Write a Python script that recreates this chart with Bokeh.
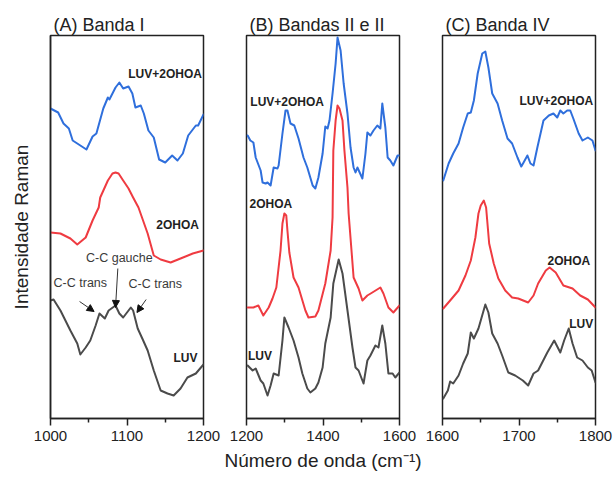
from bokeh.plotting import figure
from bokeh.layouts import row
from bokeh.models import Range1d, FixedTicker, Arrow, NormalHead, Label
from bokeh.embed import file_html
from bokeh.resources import INLINE

# ---------------- data (wavenumber cm-1, Raman intensity a.u.) ----------------
# Panel A: Banda I
a_luv2_x = [1000, 1010, 1017, 1024, 1029, 1035, 1047, 1055, 1060, 1069, 1075, 1077, 1085, 1090, 1095, 1102,
            1107, 1111, 1118, 1122, 1128, 1135, 1142, 1150, 1159, 1166, 1173, 1180, 1190, 1193, 1200]
a_luv2_y = [310, 306, 295, 290, 278, 275, 269, 282, 285, 310, 321, 319, 331, 336, 330, 332,
            325, 311, 313, 305, 288, 281, 259, 256, 263, 258, 265, 283, 293, 293, 304]
a_ohoa_x = [1000, 1013, 1026, 1035, 1046, 1055, 1063, 1065, 1075, 1081, 1085, 1089, 1095, 1102, 1108, 1115,
            1127, 1135, 1144, 1157, 1170, 1186, 1200]
a_ohoa_y = [186, 185, 180, 174, 181, 198, 211, 221, 238, 245, 246, 245, 238, 230, 221, 211,
            185, 163, 159, 156, 160, 165, 168]
a_luv_x = [1000, 1004, 1013, 1026, 1035, 1039, 1046, 1052, 1059, 1064, 1071, 1076, 1085, 1090, 1095,
           1105, 1108, 1114, 1120, 1127, 1135, 1144, 1153, 1161, 1170, 1179, 1190, 1200]
a_luv_y = [118, 119, 108, 88, 75, 64, 71, 78, 93, 105, 100, 108, 113, 105, 101,
           111, 108, 90, 80, 68, 48, 28, 25, 23, 30, 41, 45, 54]

# Panel B: Bandas II e III
b_luv2_x = [1203, 1210, 1218, 1224, 1237, 1242, 1250, 1255, 1263, 1271, 1281, 1284, 1294, 1302, 1307,
            1315, 1325, 1336, 1349, 1359, 1373, 1380, 1388, 1399, 1406, 1412, 1417, 1425, 1433, 1438,
            1446, 1454, 1464, 1472, 1480, 1485, 1490, 1503, 1511, 1516, 1524, 1532, 1542, 1550, 1555,
            1563, 1569, 1576, 1584, 1595, 1600]
b_luv2_y = [283, 278, 276, 261, 248, 236, 235, 236, 233, 251, 250, 253, 285, 308, 308,
            295, 293, 280, 261, 251, 233, 230, 241, 265, 292, 290, 298, 325, 355, 381,
            368, 335, 305, 271, 251, 246, 251, 240, 265, 286, 283, 288, 293, 290, 315,
            291, 261, 258, 253, 263, 263]
b_ohoa_x = [1203, 1218, 1231, 1244, 1258, 1268, 1278, 1289, 1294, 1299, 1304, 1307, 1312, 1323, 1336, 1354,
            1362, 1380, 1388, 1406, 1420, 1425, 1427, 1433, 1438, 1443, 1451, 1456, 1464, 1467, 1480,
            1493, 1503, 1516, 1529, 1550, 1558, 1571, 1584, 1600]
b_ohoa_y = [111, 111, 113, 103, 111, 120, 131, 168, 195, 205, 203, 188, 166, 141, 131, 108,
            101, 102, 108, 135, 168, 201, 268, 298, 313, 310, 298, 268, 231, 205, 141,
            130, 118, 123, 126, 131, 125, 111, 106, 113]
b_luv_x = [1203, 1216, 1224, 1237, 1244, 1255, 1263, 1271, 1284, 1294, 1299, 1310, 1323, 1336, 1346,
           1359, 1367, 1380, 1388, 1399, 1406, 1420, 1427, 1441, 1451, 1464, 1477, 1485, 1493, 1506,
           1516, 1524, 1537, 1545, 1555, 1563, 1571, 1582, 1589, 1600]
b_luv_y = [53, 48, 50, 38, 35, 23, 33, 45, 43, 78, 101, 91, 78, 61, 45,
           30, 26, 30, 36, 51, 75, 101, 135, 159, 145, 108, 71, 51, 48, 35,
           58, 63, 73, 71, 93, 75, 45, 45, 41, 46]

# Panel C: Banda IV
c_luv2_x = [1601, 1608, 1614, 1621, 1627, 1633, 1637, 1641, 1646, 1652, 1656, 1660, 1665, 1672, 1678,
            1685, 1691, 1698, 1703, 1706, 1711, 1715, 1719, 1724, 1732, 1739, 1745, 1750, 1754, 1758,
            1763, 1767, 1771, 1778, 1783, 1790, 1796, 1800]
c_luv2_y = [238, 255, 265, 275, 291, 305, 306, 318, 345, 365, 367, 351, 325, 315, 298,
            280, 275, 261, 252, 256, 263, 255, 253, 271, 298, 303, 305, 301, 308, 305,
            308, 308, 300, 285, 278, 281, 278, 268]
c_ohoa_x = [1601, 1610, 1621, 1630, 1637, 1643, 1647, 1650, 1654, 1657, 1661, 1667, 1673, 1682, 1691, 1699,
            1712, 1719, 1725, 1735, 1740, 1748, 1758, 1770, 1780, 1790, 1800]
c_ohoa_y = [110, 118, 128, 143, 158, 181, 205, 213, 218, 211, 175, 155, 140, 128, 121, 120,
            116, 123, 135, 148, 151, 146, 133, 130, 123, 119, 111]
c_luv_x = [1601, 1607, 1610, 1614, 1621, 1627, 1633, 1637, 1641, 1647, 1656, 1660, 1665, 1672, 1678,
           1686, 1695, 1705, 1712, 1719, 1725, 1737, 1746, 1754, 1759, 1765, 1770, 1776, 1783, 1790,
           1795, 1800]
c_luv_y = [20, 28, 37, 35, 43, 55, 65, 86, 80, 90, 114, 106, 85, 75, 63,
           46, 43, 38, 33, 45, 48, 66, 78, 66, 78, 90, 75, 61, 58, 51,
           48, 36]

titles = ["(A) Banda I", "(B) Bandas II e II", "(C) Banda IV"]
x_ranges = [(1000, 1200), (1200, 1600), (1600, 1800)]
major_ticks = [[1000, 1100, 1200], [1200, 1400, 1600], [1600, 1700, 1800]]
minor_ticks = [[1050, 1150], [1300, 1500], [1650, 1750]]
series_names = ["LUV+2OHOA", "2OHOA", "LUV"]

BLUE = "#2f6fdc"
RED = "#ef3b41"
GRAY = "#4b4b4b"
FONT = "Liberation Sans"
TXT = "#222222"

widths = [225, 196, 192]
borders = [(50, 22), (21, 22), (21, 18)]
H = 479


def make_panel(i):
    bl, br = borders[i]
    p = figure(width=widths[i], height=H, output_backend="svg", toolbar_location=None,
               x_range=Range1d(*x_ranges[i]), y_range=Range1d(0, 383),
               min_border_left=bl, min_border_right=br, min_border_top=35, min_border_bottom=61,
               y_axis_location="left" if i == 0 else None, title=titles[i])
    p.grid.visible = False
    p.outline_line_color = TXT
    p.outline_line_width = 1.5
    p.outline_line_alpha = 1
    p.background_fill_color = "white"
    p.border_fill_color = "white"
    p.title.text_font = FONT
    p.title.text_font_size = "18px"
    p.title.text_font_style = "normal"
    p.title.text_color = TXT
    p.title.align = "left"
    p.title.offset = 3
    p.title.standoff = 1

    ax = p.xaxis[0]
    ax.ticker = FixedTicker(ticks=major_ticks[i], minor_ticks=minor_ticks[i])
    ax.major_tick_out = 7
    ax.major_tick_in = 0
    ax.minor_tick_out = 4
    ax.minor_tick_in = 0
    ax.axis_line_width = 1.5
    ax.axis_line_color = TXT
    ax.major_tick_line_color = TXT
    ax.major_tick_line_width = 1.5
    ax.minor_tick_line_color = TXT
    ax.minor_tick_line_width = 1.5
    ax.major_label_text_font = FONT
    ax.major_label_text_font_size = "15px"
    ax.major_label_text_color = TXT
    ax.major_label_standoff = 5
    if i == 1:
        ax.axis_label = "Número de onda (cm⁻¹)"
        ax.axis_label_text_font = FONT
        ax.axis_label_text_font_size = "19px"
        ax.axis_label_text_font_style = "normal"
        ax.axis_label_text_color = TXT
        ax.axis_label_standoff = 6
    if i == 0:
        ay = p.yaxis[0]
        ay.ticker = FixedTicker(ticks=[])
        ay.major_tick_out = 0
        ay.major_tick_in = 0
        ay.minor_tick_out = 0
        ay.axis_line_width = 1.5
        ay.axis_line_color = TXT
        ay.axis_label = "Intensidade Raman"
        ay.axis_label_text_font = FONT
        ay.axis_label_text_font_size = "19px"
        ay.axis_label_text_font_style = "normal"
        ay.axis_label_text_color = TXT
        ay.axis_label_standoff = 19
    return p


pa = make_panel(0)
pb = make_panel(1)
pc = make_panel(2)

for p, data in [
    (pa, [(a_luv2_x, a_luv2_y, BLUE), (a_ohoa_x, a_ohoa_y, RED), (a_luv_x, a_luv_y, GRAY)]),
    (pb, [(b_luv2_x, b_luv2_y, BLUE), (b_ohoa_x, b_ohoa_y, RED), (b_luv_x, b_luv_y, GRAY)]),
    (pc, [(c_luv2_x, c_luv2_y, BLUE), (c_ohoa_x, c_ohoa_y, RED), (c_luv_x, c_luv_y, GRAY)]),
]:
    for xs, ys, col in data:
        p.line(xs, ys, line_color=col, line_width=2, line_join="round", line_cap="round")


def add_label(p, x, y, text, align, bold=True, size="12px", color=TXT):
    p.add_layout(Label(x=x, y=y, text=text, text_align=align, text_baseline="middle",
                       text_font=FONT, text_font_size=size,
                       text_font_style="bold" if bold else "normal", text_color=color))


# series labels
add_label(pa, 1198, 345, series_names[0], "right")
add_label(pa, 1194, 194, series_names[1], "right")
add_label(pa, 1192, 61, series_names[2], "right")
add_label(pb, 1210, 317, series_names[0], "left")
add_label(pb, 1208, 215, series_names[1], "left")
add_label(pb, 1204, 63, series_names[2], "left")
add_label(pc, 1797, 318, series_names[0], "right")
add_label(pc, 1793, 158, series_names[1], "right")
add_label(pc, 1797, 95, series_names[2], "right")

# band annotations in panel A
add_label(pa, 1090, 161, "C-C gauche", "center", bold=False, size="12.5px", color="#3a3a3a")
add_label(pa, 1039, 136, "C-C trans", "center", bold=False, size="12.5px", color="#3a3a3a")
add_label(pa, 1137, 135, "C-C trans", "center", bold=False, size="12.5px", color="#3a3a3a")

for (x0, y0, x1, y1) in [(1038, 117, 1057, 107), (1088, 150, 1085, 111), (1125, 119, 1113, 106)]:
    pa.add_layout(Arrow(x_start=x0, y_start=y0, x_end=x1, y_end=y1, line_color="#333333", line_width=1,
                        end=NormalHead(size=7, fill_color="#111111", line_color="#111111")))

layout = row(pa, pb, pc)
open("out.html", "w").write(file_html(layout, INLINE))
